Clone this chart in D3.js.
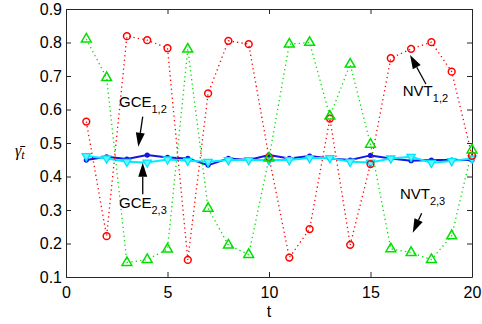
<!DOCTYPE html>
<html>
<head>
<meta charset="utf-8">
<script src="https://cdn.jsdelivr.net/npm/d3@7"></script>
<style>
  body { margin: 0; background: #fff; }
  text { font-family: "Liberation Sans", Arial, Helvetica, sans-serif; }
</style>
</head>
<body>
<div id="chart"></div>
<script>
// data
var steps = [1, 2, 3, 4, 5, 6, 7, 8, 9, 10, 11, 12, 13, 14, 15, 16, 17, 18, 19, 20];
var nvt12 = [0.564, 0.222, 0.819, 0.807, 0.783, 0.151, 0.648, 0.805, 0.795, 0.458,
             0.158, 0.243, 0.573, 0.196, 0.437, 0.753, 0.781, 0.801, 0.713, 0.462];
var nvt23 = [0.810, 0.695, 0.143, 0.152, 0.183, 0.780, 0.305, 0.195, 0.167, 0.455,
             0.795, 0.800, 0.580, 0.735, 0.496, 0.184, 0.173, 0.152, 0.223, 0.479];
var gce12 = [0.449, 0.459, 0.452, 0.464, 0.457, 0.454, 0.434, 0.454, 0.449, 0.464,
             0.454, 0.461, 0.454, 0.449, 0.463, 0.454, 0.447, 0.449, 0.449, 0.449];
var gce23 = [0.461, 0.454, 0.444, 0.442, 0.451, 0.447, 0.444, 0.449, 0.449, 0.449,
             0.449, 0.455, 0.455, 0.444, 0.442, 0.454, 0.459, 0.441, 0.446, 0.454];
var xTicks = [0, 5, 10, 15, 20];
var yTicks = [0.1, 0.2, 0.3, 0.4, 0.5, 0.6, 0.7, 0.8, 0.9];

// annotations: label, subscript, text anchor (t, value), arrow from -> to
var notes = [
    { main: "GCE", sub: "1,2", t: 2.61, v: 0.607, from: [3.78, 0.579], to: [3.56, 0.489] },
    { main: "GCE", sub: "2,3", t: 2.61, v: 0.307, from: [3.78, 0.347], to: [3.78, 0.441] },
    { main: "NVT", sub: "1,2", t: 16.59, v: 0.641, from: [17.73, 0.676], to: [16.95, 0.763] },
    { main: "NVT", sub: "2,3", t: 16.45, v: 0.332, from: [17.52, 0.290], to: [17.08, 0.232] }
];

var margin = { top: 9, right: 10, bottom: 47, left: 66 },
    width = 482 - margin.left - margin.right,
    height = 324 - margin.top - margin.bottom;

var svg = d3
    .select("#chart")
    .append("svg")
    .attr("width", 482)
    .attr("height", 324)
    .append("g")
    .attr("transform", "translate(" + margin.left + "," + margin.top + ")");

var x = d3.scaleLinear().domain([0, 20]).range([0, width]);
var y = d3.scaleLinear().domain([0.1, 0.9]).range([height, 0]);

function styleAxis(g) {
    g.selectAll("path, line").attr("stroke", "#262626");
    g.selectAll("text").attr("fill", "#000").style("font-size", "16px");
}

svg.append("g")
    .attr("transform", "translate(0," + height + ")")
    .call(d3.axisBottom(x).tickValues(xTicks).tickSizeInner(-5).tickSizeOuter(0).tickPadding(10))
    .call(styleAxis);
svg.append("g")
    .call(d3.axisTop(x).tickValues(xTicks).tickSizeInner(-5).tickSizeOuter(0).tickFormat(""))
    .call(styleAxis);
svg.append("g")
    .call(d3.axisLeft(y).tickValues(yTicks).tickFormat(d3.format(".1f")).tickSizeInner(-5).tickSizeOuter(0).tickPadding(4))
    .call(styleAxis);
svg.append("g")
    .attr("transform", "translate(" + width + ",0)")
    .call(d3.axisRight(y).tickValues(yTicks).tickSizeInner(-5).tickSizeOuter(0).tickFormat(""))
    .call(styleAxis);
svg.selectAll(".domain").attr("fill", "none");

// axis labels
svg.append("text")
    .attr("x", width / 2)
    .attr("y", height + 40)
    .attr("text-anchor", "middle")
    .style("font-size", "16px")
    .text("t");

var yl = svg.append("text")
    .attr("x", -51)
    .attr("y", 156 - margin.top)
    .style("font-family", "'Liberation Serif', 'DejaVu Serif', serif")
    .style("font-style", "italic")
    .style("font-size", "16px");
yl.append("tspan").text("γ̄");
yl.append("tspan").attr("dy", 3).style("font-size", "12px").text("t");

var line = d3.line()
    .x(function (d, i) { return x(steps[i]); })
    .y(function (d) { return y(d); });

// GCE lines
svg.append("path").datum(gce12)
    .attr("fill", "none").attr("stroke", "#1414e6").attr("stroke-width", 2)
    .attr("d", line);
svg.append("g").selectAll("circle").data(gce12).enter().append("circle")
    .attr("cx", function (d, i) { return x(steps[i]); })
    .attr("cy", function (d) { return y(d); })
    .attr("r", 2.6)
    .attr("fill", "#1414e6");

var down = d3.symbol().type(d3.symbolTriangle).size(30);
svg.append("path").datum(gce23)
    .attr("fill", "none").attr("stroke", "#00eeff").attr("stroke-width", 2)
    .attr("d", line);
svg.append("g").selectAll("path").data(gce23).enter().append("path")
    .attr("d", down)
    .attr("transform", function (d, i) {
        return "translate(" + x(steps[i]) + "," + y(d) + ") rotate(180)";
    })
    .attr("fill", "#66f4ff")
    .attr("stroke", "#00e5ff")
    .attr("stroke-width", 1.3);

// NVT lines (dotted)
svg.append("path").datum(nvt12)
    .attr("fill", "none").attr("stroke", "#ff0000").attr("stroke-width", 1.3)
    .attr("stroke-dasharray", "1.3,3.2")
    .attr("d", line);
svg.append("g").selectAll("circle").data(nvt12).enter().append("circle")
    .attr("cx", function (d, i) { return x(steps[i]); })
    .attr("cy", function (d) { return y(d); })
    .attr("r", 3.4)
    .attr("fill", "none")
    .attr("stroke", "#ff0000")
    .attr("stroke-width", 1.5);

var up = d3.symbol().type(d3.symbolTriangle).size(42);
svg.append("path").datum(nvt23)
    .attr("fill", "none").attr("stroke", "#00e000").attr("stroke-width", 1.3)
    .attr("stroke-dasharray", "1.3,3.2")
    .attr("d", line);
svg.append("g").selectAll("path").data(nvt23).enter().append("path")
    .attr("d", up)
    .attr("transform", function (d, i) {
        return "translate(" + x(steps[i]) + "," + y(d) + ")";
    })
    .attr("fill", "none")
    .attr("stroke", "#00e000")
    .attr("stroke-width", 1.5);

// annotations
notes.forEach(function (n) {
    var t = svg.append("text")
        .attr("x", x(n.t))
        .attr("y", y(n.v))
        .style("font-size", "15px")
        .attr("fill", "#000");
    t.append("tspan").text(n.main);
    t.append("tspan").attr("dy", 6).style("font-size", "11px").text(n.sub);

    var x1 = x(n.from[0]), y1 = y(n.from[1]);
    var x2 = x(n.to[0]), y2 = y(n.to[1]);
    var ang = Math.atan2(y2 - y1, x2 - x1);
    var len = 14, half = 4.5;
    var bx = x2 - len * Math.cos(ang), by = y2 - len * Math.sin(ang);
    svg.append("line")
        .attr("x1", x1).attr("y1", y1)
        .attr("x2", bx).attr("y2", by)
        .attr("stroke", "#000").attr("stroke-width", 1.3);
    svg.append("path")
        .attr("d", "M" + x2 + "," + y2 +
            "L" + (bx + half * Math.sin(ang)) + "," + (by - half * Math.cos(ang)) +
            "L" + (bx - half * Math.sin(ang)) + "," + (by + half * Math.cos(ang)) + "Z")
        .attr("fill", "#000");
});
</script>
</body>
</html>
